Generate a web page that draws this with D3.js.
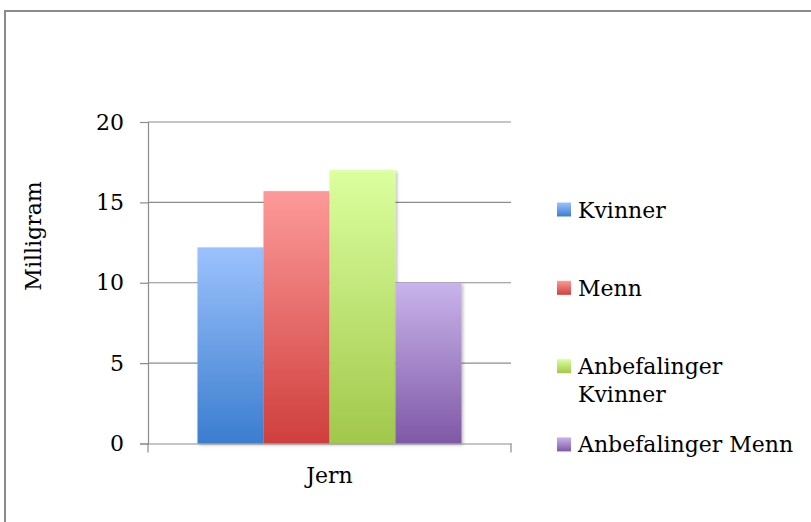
<!DOCTYPE html>
<html>
<head>
<meta charset="utf-8">
<script src="https://cdn.jsdelivr.net/npm/d3@7"></script>
<style>
  html, body { margin: 0; padding: 0; background: #fff; }
  svg text { font-family: "DejaVu Serif", serif; fill: #000; }
</style>
</head>
<body>
<svg id="chart" width="811" height="522"></svg>
<script>
// Iron intake vs. recommendations (mg)
const categories = ["Jern"];
const seriesNames = ["Kvinner", "Menn", "Anbefalinger Kvinner", "Anbefalinger Menn"];
const seriesValues = [12.2, 15.7, 17, 10];
const yTicks = [0, 5, 10, 15, 20];
const yLabel = "Milligram";

// top / bottom gradient stops per series
const gradTop = ["#9cc2fd", "#fc9a99", "#dcff9f", "#c9b4ec"];
const gradBottom = ["#3b7dcf", "#cf3f3d", "#a1c84b", "#7f58a6"];

const fontSize = 22;

const svg = d3.select("#chart");
const defs = svg.append("defs");

seriesNames.forEach((s, i) => {
  const g = defs.append("linearGradient")
    .attr("id", "grad" + i)
    .attr("x1", 0).attr("y1", 0).attr("x2", 0).attr("y2", 1);
  g.append("stop").attr("offset", "0%").attr("stop-color", gradTop[i]);
  g.append("stop").attr("offset", "100%").attr("stop-color", gradBottom[i]);
});

const shadow = defs.append("filter").attr("id", "shadow")
  .attr("x", "-10%").attr("y", "-10%").attr("width", "130%").attr("height", "130%");
shadow.append("feDropShadow")
  .attr("dx", 1.5).attr("dy", 1.5).attr("stdDeviation", 1.5)
  .attr("flood-color", "#000").attr("flood-opacity", 0.28);

// outer frame
svg.append("rect")
  .attr("x", 5).attr("y", 11).attr("width", 820).attr("height", 530)
  .attr("fill", "none").attr("stroke", "#8a8a8a").attr("stroke-width", 2);

const plot = { left: 148, right: 511, top: 122, bottom: 443.5 };

const y = d3.scaleLinear().domain([0, 20]).range([plot.bottom, plot.top]);
const x0 = d3.scaleBand().domain(categories).range([plot.left, plot.right]);
const x1 = d3.scaleBand().domain(seriesNames)
  .range([0, x0.bandwidth()]).paddingInner(0).paddingOuter(0.75);

// gridlines
svg.append("g").selectAll("line").data(yTicks.filter(t => t > 0)).join("line")
  .attr("x1", plot.left).attr("x2", plot.right)
  .attr("y1", d => y(d)).attr("y2", d => y(d))
  .attr("stroke", "#8c8c8c").attr("stroke-width", 1.2);

// y axis
const yAxis = svg.append("g")
  .attr("transform", `translate(${plot.left},0)`)
  .call(d3.axisLeft(y).tickValues(yTicks).tickSize(8).tickPadding(16));
yAxis.select(".domain").attr("stroke", "#8c8c8c").attr("stroke-width", 1.2);
yAxis.selectAll(".tick line").attr("stroke", "#8c8c8c").attr("stroke-width", 1.2);
yAxis.selectAll(".tick text")
  .attr("font-size", fontSize).attr("font-family", "DejaVu Serif").attr("fill", "#000");

// bars
const barG = svg.append("g");
categories.forEach(cat => {
  barG.selectAll("rect.bar").data(seriesValues).join("rect")
    .attr("class", "bar")
    .attr("x", (d, i) => x0(cat) + x1(seriesNames[i]))
    .attr("width", x1.bandwidth())
    .attr("y", d => y(d))
    .attr("height", d => y(0) - y(d))
    .attr("fill", (d, i) => `url(#grad${i})`)
    .attr("filter", "url(#shadow)");
});

// x axis
const xAxis = svg.append("g")
  .attr("transform", `translate(0,${plot.bottom})`)
  .call(d3.axisBottom(x0).tickSize(0).tickPadding(24));
xAxis.select(".domain").attr("stroke", "#8c8c8c").attr("stroke-width", 1.2);
xAxis.selectAll(".tick text")
  .attr("font-size", fontSize).attr("font-family", "DejaVu Serif").attr("fill", "#000");
xAxis.selectAll("line.edge").data([plot.left, plot.right]).join("line")
  .attr("class", "edge")
  .attr("x1", d => d).attr("x2", d => d)
  .attr("y1", 0).attr("y2", 9)
  .attr("stroke", "#8c8c8c").attr("stroke-width", 1.2);

// y axis title
svg.append("text")
  .attr("transform", `translate(41,236) rotate(-90)`)
  .attr("text-anchor", "middle")
  .attr("font-size", fontSize)
  .text(yLabel);

// legend
const legendX = 557, legendY0 = 209.5, legendStep = 78.3, maxLabelWidth = 232;
const legend = svg.append("g");
seriesNames.forEach((name, i) => {
  const cy = legendY0 + i * legendStep;
  legend.append("rect")
    .attr("x", legendX).attr("y", cy - 7)
    .attr("width", 14).attr("height", 14)
    .attr("fill", `url(#grad${i})`);
  const t = legend.append("text")
    .attr("x", legendX + 21).attr("y", cy + 8)
    .attr("font-size", fontSize);
  // wrap long names onto extra lines
  const words = name.split(" ");
  let line = [];
  let tspan = t.append("tspan").attr("x", legendX + 21).attr("dy", 0);
  words.forEach(w => {
    line.push(w);
    tspan.text(line.join(" "));
    if (tspan.node().getComputedTextLength() > maxLabelWidth && line.length > 1) {
      line.pop();
      tspan.text(line.join(" "));
      line = [w];
      tspan = t.append("tspan").attr("x", legendX + 21).attr("dy", 28).text(w);
    }
  });
});
</script>
</body>
</html>
